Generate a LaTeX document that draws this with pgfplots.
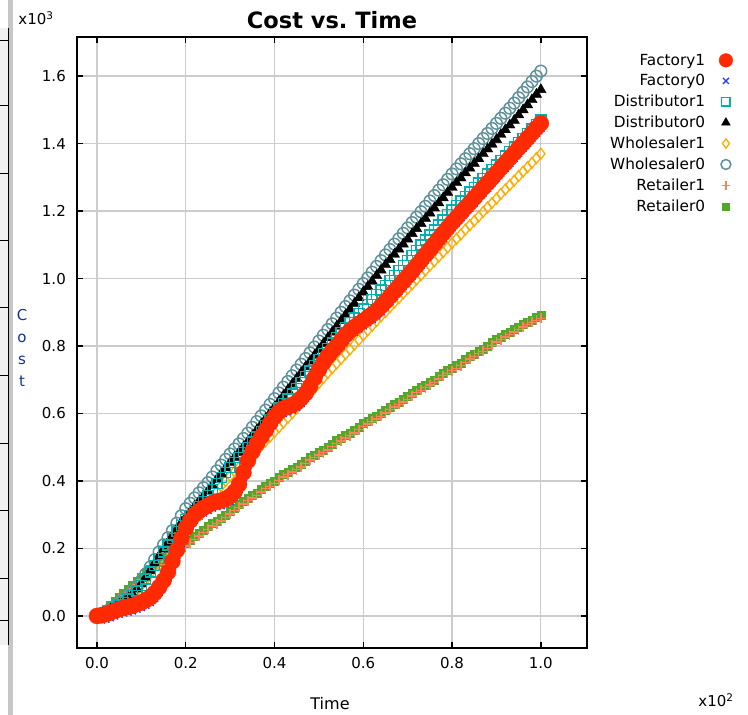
\documentclass[border=0pt]{standalone}
\usepackage{fontspec}
\setmainfont{DejaVu Sans}
\usepackage{pgfplots}
\pgfplotsset{compat=1.18}

\definecolor{fone}{RGB}{255,42,0}
\definecolor{fzero}{RGB}{40,60,255}
\definecolor{done}{RGB}{0,175,175}
\definecolor{wone}{RGB}{255,172,0}
\definecolor{wzero}{RGB}{95,145,155}
\definecolor{rone}{RGB}{255,130,90}
\definecolor{rzero}{RGB}{80,170,40}
\definecolor{labblue}{RGB}{20,50,140}

% t (x100), cost (x1000) for each player
\pgfplotstableread{
t    F1    F0    D1    D0    W1    W0    R1    R0
0.00 0.000 -0.008 0.000 0.000 0.000 0.000 -0.006 0.000
0.01 0.002 -0.012 0.005 0.006 0.005 0.006 0.002 0.010
0.02 0.005 -0.010 0.010 0.012 0.010 0.013 0.012 0.020
0.03 0.010 -0.005 0.017 0.020 0.017 0.021 0.025 0.033
0.04 0.015 0.000 0.025 0.028 0.025 0.030 0.037 0.045
0.05 0.020 0.005 0.032 0.036 0.033 0.040 0.049 0.057
0.06 0.024 0.009 0.040 0.045 0.042 0.050 0.060 0.068
0.07 0.027 0.012 0.050 0.055 0.052 0.061 0.071 0.079
0.08 0.030 0.015 0.060 0.065 0.062 0.072 0.082 0.090
0.09 0.035 0.020 0.074 0.080 0.075 0.088 0.094 0.102
0.10 0.040 0.025 0.090 0.095 0.090 0.105 0.107 0.115
0.11 0.047 0.032 0.110 0.115 0.107 0.125 0.120 0.128
0.12 0.055 0.040 0.130 0.135 0.125 0.145 0.132 0.140
0.13 0.068 0.053 0.150 0.157 0.145 0.167 0.142 0.150
0.14 0.085 0.070 0.170 0.178 0.165 0.190 0.152 0.160
0.15 0.105 0.090 0.190 0.198 0.183 0.211 0.162 0.170
0.16 0.130 0.115 0.210 0.218 0.200 0.232 0.172 0.180
0.17 0.162 0.147 0.230 0.238 0.218 0.253 0.180 0.188
0.18 0.195 0.180 0.250 0.258 0.235 0.275 0.187 0.195
0.19 0.230 0.215 0.268 0.277 0.253 0.297 0.197 0.205
0.20 0.260 0.245 0.285 0.293 0.270 0.318 0.207 0.215
0.21 0.283 0.268 0.298 0.309 0.283 0.334 0.217 0.225
0.22 0.300 0.285 0.310 0.325 0.295 0.350 0.227 0.235
0.23 0.311 0.296 0.324 0.340 0.307 0.365 0.237 0.245
0.24 0.320 0.305 0.340 0.355 0.320 0.380 0.247 0.255
0.25 0.328 0.313 0.357 0.370 0.335 0.395 0.257 0.265
0.26 0.335 0.320 0.375 0.387 0.350 0.412 0.267 0.275
0.27 0.339 0.324 0.393 0.405 0.368 0.430 0.274 0.282
0.28 0.342 0.327 0.410 0.422 0.385 0.447 0.282 0.290
0.29 0.347 0.332 0.425 0.439 0.400 0.464 0.292 0.300
0.30 0.355 0.340 0.440 0.455 0.415 0.480 0.302 0.310
0.31 0.368 0.353 0.455 0.470 0.428 0.495 0.312 0.320
0.32 0.390 0.375 0.470 0.485 0.440 0.510 0.322 0.330
0.33 0.425 0.410 0.485 0.501 0.452 0.526 0.332 0.340
0.34 0.460 0.445 0.500 0.517 0.465 0.542 0.342 0.350
0.35 0.487 0.472 0.515 0.534 0.477 0.559 0.349 0.357
0.36 0.510 0.495 0.530 0.551 0.490 0.576 0.357 0.365
0.37 0.531 0.516 0.547 0.568 0.505 0.593 0.367 0.375
0.38 0.550 0.535 0.565 0.585 0.518 0.610 0.377 0.385
0.39 0.571 0.556 0.583 0.602 0.531 0.627 0.384 0.392
0.40 0.590 0.575 0.600 0.619 0.545 0.644 0.392 0.400
0.41 0.605 0.590 0.616 0.636 0.559 0.661 0.402 0.410
0.42 0.615 0.600 0.630 0.653 0.573 0.678 0.412 0.420
0.43 0.620 0.605 0.643 0.670 0.587 0.695 0.419 0.427
0.44 0.625 0.610 0.658 0.687 0.601 0.712 0.427 0.435
0.45 0.633 0.618 0.675 0.704 0.615 0.729 0.434 0.442
0.46 0.645 0.630 0.692 0.721 0.630 0.746 0.442 0.450
0.47 0.660 0.645 0.709 0.738 0.645 0.763 0.452 0.460
0.48 0.680 0.665 0.726 0.755 0.660 0.780 0.462 0.470
0.49 0.705 0.690 0.743 0.772 0.675 0.797 0.469 0.477
0.50 0.730 0.715 0.760 0.790 0.690 0.815 0.477 0.485
0.51 0.751 0.736 0.777 0.807 0.705 0.832 0.484 0.492
0.52 0.770 0.755 0.793 0.824 0.720 0.849 0.492 0.500
0.53 0.786 0.771 0.809 0.841 0.734 0.866 0.502 0.510
0.54 0.800 0.785 0.825 0.858 0.748 0.883 0.512 0.520
0.55 0.816 0.801 0.840 0.875 0.762 0.900 0.519 0.527
0.56 0.832 0.817 0.855 0.892 0.776 0.917 0.527 0.535
0.57 0.845 0.830 0.869 0.909 0.790 0.934 0.534 0.542
0.58 0.856 0.841 0.883 0.926 0.804 0.951 0.542 0.550
0.59 0.866 0.851 0.897 0.943 0.818 0.968 0.552 0.560
0.60 0.875 0.860 0.910 0.960 0.832 0.985 0.562 0.570
0.61 0.884 0.869 0.924 0.976 0.846 1.002 0.569 0.577
0.62 0.894 0.879 0.938 0.992 0.860 1.019 0.577 0.585
0.63 0.905 0.890 0.952 1.009 0.874 1.036 0.584 0.592
0.64 0.918 0.903 0.966 1.025 0.888 1.053 0.592 0.600
0.65 0.932 0.917 0.980 1.041 0.901 1.070 0.602 0.610
0.66 0.947 0.932 0.994 1.056 0.915 1.086 0.612 0.620
0.67 0.962 0.947 1.009 1.072 0.929 1.102 0.619 0.627
0.68 0.977 0.962 1.024 1.087 0.942 1.118 0.627 0.635
0.69 0.992 0.977 1.039 1.102 0.956 1.134 0.634 0.642
0.70 1.007 0.992 1.054 1.117 0.970 1.150 0.642 0.650
0.71 1.022 1.007 1.069 1.133 0.983 1.166 0.652 0.660
0.72 1.038 1.023 1.084 1.148 0.997 1.182 0.662 0.670
0.73 1.054 1.039 1.099 1.163 1.010 1.198 0.669 0.677
0.74 1.070 1.055 1.114 1.178 1.024 1.214 0.677 0.685
0.75 1.086 1.071 1.129 1.194 1.038 1.230 0.684 0.692
0.76 1.102 1.087 1.144 1.209 1.051 1.246 0.692 0.700
0.77 1.118 1.103 1.159 1.224 1.065 1.262 0.702 0.710
0.78 1.134 1.119 1.174 1.239 1.078 1.278 0.712 0.720
0.79 1.150 1.135 1.189 1.255 1.092 1.294 0.719 0.727
0.80 1.166 1.151 1.203 1.270 1.105 1.310 0.727 0.735
0.81 1.180 1.165 1.216 1.284 1.118 1.325 0.734 0.742
0.82 1.195 1.180 1.230 1.298 1.131 1.340 0.742 0.750
0.83 1.210 1.195 1.243 1.313 1.145 1.355 0.752 0.760
0.84 1.224 1.209 1.256 1.327 1.158 1.370 0.762 0.770
0.85 1.239 1.224 1.270 1.341 1.171 1.385 0.769 0.777
0.86 1.254 1.239 1.283 1.355 1.184 1.400 0.777 0.785
0.87 1.269 1.254 1.296 1.370 1.198 1.415 0.784 0.792
0.88 1.283 1.268 1.310 1.384 1.211 1.430 0.792 0.800
0.89 1.298 1.283 1.323 1.398 1.224 1.445 0.802 0.810
0.90 1.313 1.298 1.336 1.412 1.237 1.460 0.812 0.820
0.91 1.328 1.313 1.350 1.427 1.251 1.475 0.819 0.827
0.92 1.342 1.327 1.363 1.441 1.264 1.490 0.827 0.835
0.93 1.357 1.342 1.376 1.455 1.277 1.505 0.834 0.842
0.94 1.372 1.357 1.390 1.469 1.290 1.520 0.842 0.850
0.95 1.387 1.372 1.403 1.485 1.304 1.536 0.849 0.857
0.96 1.401 1.386 1.416 1.500 1.317 1.552 0.857 0.865
0.97 1.416 1.401 1.430 1.515 1.330 1.568 0.864 0.872
0.98 1.431 1.416 1.443 1.530 1.343 1.584 0.870 0.878
0.99 1.446 1.431 1.457 1.546 1.357 1.600 0.876 0.884
1.00 1.460 1.445 1.470 1.560 1.370 1.615 0.882 0.890
}\costdata

\begin{document}
\begin{tikzpicture}[x=1pt,y=1pt]
\path[use as bounding box] (0,0) rectangle (748,715);
% window edge on the left
\fill[gray!45] (8,0) rectangle (13,715);
\fill[gray!12] (0,70) rectangle (8,687);
\draw[black, line width=1pt] (8,70) -- (8,687);
\foreach \yy in {675,610,542,475,408,340,272,205,137,95} \draw[black, line width=0.8pt] (0,\yy) -- (8,\yy);

\begin{axis}[
  at={(77pt,67pt)}, anchor=south west,
  scale only axis, width=510pt, height=611pt,
  xmin=-0.045, xmax=1.104, ymin=-0.095, ymax=1.716,
  xtick={0,0.2,...,1.0}, ytick={0,0.2,...,1.6},
  /pgf/number format/.cd, fixed, fixed zerofill, precision=1, assume math mode=true,
  /pgfplots/.cd,
  tick label style={font=\fontsize{15}{15}\selectfont, inner sep=0pt},
  xticklabel style={anchor=north, yshift=-9pt},
  yticklabel style={anchor=east, xshift=-11pt},
  tick align=inside, tick pos=both,
  major tick length=6pt,
  tick style={black, line width=1.5pt},
  axis line style={black, line width=2pt},
  grid=major, major grid style={gray!40, line width=1.3pt},
  title={\bfseries Cost vs.\ Time},
  title style={font=\fontsize{22.5}{22.5}\selectfont, anchor=base, yshift=2pt, inner sep=0pt},
  legend style={at={(1.292,0.979)}, anchor=north east, draw=none, fill=none,
    font=\fontsize{15.3}{15.3}\selectfont, row sep=3.8pt},
  legend cell align=right, legend plot pos=right, reverse legend,
  legend image post style={scale=0.85},
]
\addplot[only marks, mark=square*, mark size=4pt, color=rzero, fill=rzero] table[x=t, y=R0] {\costdata};
\addlegendentry{Retailer0\kern12pt}
\addplot[only marks, mark=+, mark size=5pt, color=rone, line width=1.4pt] table[x=t, y=R1] {\costdata};
\addlegendentry{Retailer1\kern12pt}
\addplot[only marks, mark=o, mark size=5.8pt, color=wzero, line width=1.5pt] table[x=t, y=W0] {\costdata};
\addlegendentry{Wholesaler0\kern12pt}
\addplot[only marks, mark=diamond, mark size=5.5pt, color=wone, line width=1.3pt] table[x=t, y=W1] {\costdata};
\addlegendentry{Wholesaler1\kern12pt}
\addplot[only marks, mark=triangle*, mark size=6pt, color=black, fill=black] table[x=t, y=D0] {\costdata};
\addlegendentry{Distributor0\kern12pt}
\addplot[only marks, mark=square, mark size=5pt, color=done, line width=1.4pt] table[x=t, y=D1] {\costdata};
\addlegendentry{Distributor1\kern12pt}
\addplot[only marks, mark=x, mark size=5pt, color=fzero, line width=1.3pt] table[x=t, y=F0] {\costdata};
\addlegendentry{Factory0\kern12pt}
\addplot[only marks, mark=*, mark size=8pt, color=fone, fill=fone] table[x=t, y=F1] {\costdata};
\addlegendentry{Factory1\kern12pt}
\end{axis}

\node[font=\fontsize{16}{16}\selectfont] at (330,11) {Time};
\node[font=\fontsize{15}{22}\selectfont, text=labblue, align=center] at (22,367) {C\\o\\s\\t};
\node[font=\fontsize{15}{15}\selectfont] at (36,697) {x10$^{\mathrm{3}}$};
\node[font=\fontsize{15}{15}\selectfont] at (716,15) {x10$^{\mathrm{2}}$};
\end{tikzpicture}
\end{document}
